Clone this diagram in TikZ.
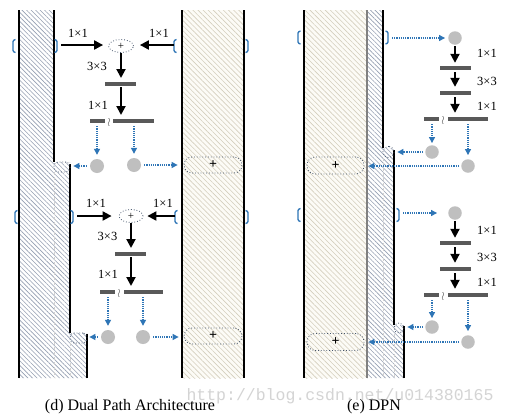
\documentclass[tikz,border=0pt]{standalone}
\usepackage{fontspec}
\setmainfont{Liberation Serif}
\newfontfamily\wmfont{Liberation Mono}
\usetikzlibrary{arrows.meta,shapes.geometric,patterns.meta,calc}
\definecolor{bluec}{HTML}{2E75B6}
\definecolor{barc}{HTML}{595959}
\definecolor{circc}{HTML}{BFBFBF}
\definecolor{dotc}{HTML}{44546A}
\definecolor{hatchb}{HTML}{959FB2}
\definecolor{hatchy}{HTML}{D4CEBD}
\definecolor{creamc}{HTML}{FCFBF6}
\definecolor{wmc}{HTML}{D4D4D4}
\newcommand\mylbr[1]{\draw[brk] (#1) ++(2.5,-6.5) -- ++(-2.5,1) -- ++(0,11) -- ++(2.5,1);}
\newcommand\myrbr[1]{\draw[brk] (#1) ++(-2.5,-6.5) -- ++(2.5,1) -- ++(0,11) -- ++(-2.5,1);}
\begin{document}
\begin{tikzpicture}[x=1pt,y=-1pt,
  lab/.style={font=\fontsize{12.5}{13}\selectfont, inner sep=0pt},
  bar/.style={rectangle, fill=barc, inner sep=0pt, minimum height=4pt},
  gc/.style={circle, fill=circc, minimum size=14pt, inner sep=0pt},
  pe/.style={ellipse, draw=dotc, dotted, line width=0.8pt, minimum width=25pt, minimum height=13pt, inner sep=0pt, font=\fontsize{11}{11}\selectfont},
  sumb/.style={rectangle, rounded corners=8pt, draw=dotc, dotted, line width=0.8pt, minimum width=58pt, minimum height=16pt, inner sep=0pt, font=\bfseries\fontsize{14}{14}\selectfont},
  smallr/.style={rectangle, rounded corners=4pt, draw=dotc, dotted, line width=0.8pt, inner sep=0pt},
  blk/.style={draw=black, line width=2pt, -{Triangle[length=9pt,width=9pt]}},
  bla/.style={draw=bluec, line width=1.2pt, dash pattern=on 1.2pt off 1pt, -{Triangle[length=6pt,width=6pt]}},
  bordr/.style={line width=2pt, black},
  faint/.style={line width=0.6pt, black!18, dash pattern=on 3pt off 2pt},
  brk/.style={draw=bluec, line width=1.3pt, rounded corners=1pt},
  tl/.style={font=\fontsize{12}{12}\selectfont, text=barc, inner sep=0pt},
  hb/.style={pattern={Lines[angle=-45,distance=3.2pt,line width=0.6pt]}, pattern color=hatchb},
  hy/.style={pattern={Lines[angle=-45,distance=3.6pt,line width=0.6pt]}, pattern color=hatchy},
  captxt/.style={font=\fontsize{16}{16}\selectfont, inner sep=0pt}
]
\useasboundingbox (0,0) rectangle (511,418);
\fill[white] (0,0) rectangle (511,418);

% ---------- background columns ----------
% (d) left column
\path[hb] (19,10) -- (54,10) -- (54,162) -- (70,162) -- (70,333) -- (87,333) -- (87,378) -- (19,378) -- cycle;
\draw[faint] (54,172) -- (54,378);
\draw[faint] (70,343) -- (70,378);
\draw[bordr] (19,10) -- (19,378);
\draw[bordr] (54,10) -- (54,162);
\draw[bordr] (70,164) -- (70,333);
\draw[bordr] (87,334) -- (87,378);
% (d) right column
\fill[creamc] (182,10) rectangle (244,378);
\path[hy] (182,10) rectangle (244,378);
\draw[bordr] (182,10) -- (182,378);
\draw[bordr] (244,10) -- (244,378);
% (e) columns
\fill[creamc] (304,10) rectangle (367,378);
\path[hy] (304,10) rectangle (367,378);
\path[hb] (367,10) -- (383,10) -- (383,148) -- (394,148) -- (394,325) -- (404,325) -- (404,378) -- (367,378) -- cycle;
\draw[faint] (383,158) -- (383,378);
\draw[faint] (394,334) -- (394,378);
\draw[bordr] (304,10) -- (304,378);
\draw[line width=1.5pt, black!50] (367,10) -- (367,378);
\draw[bordr] (383,10) -- (383,148);
\draw[bordr] (394,150) -- (394,325);
\draw[bordr] (404,326) -- (404,378);

% ---------- watermark ----------
\node[font=\wmfont\fontsize{16.5}{17}\selectfont, text=wmc, inner sep=0pt] (wm) at (340,396) {http://blog.csdn.net/u014380165};

% ---------- (d) block 1 ----------
\coordinate (d1a) at (13,46); \coordinate (d1b) at (57,46);
\coordinate (d1c) at (174,46); \coordinate (d1d) at (248,46);
\mylbr{d1a} \myrbr{d1b} \mylbr{d1c} \myrbr{d1d}
\coordinate (d1bo) at (61,45); \coordinate (d1co) at (174,45);
\node[pe] (d1e) at (121,46) {+};
\node[lab] (d1l1) at (78,33) {1×1};
\node[lab] (d1l2) at (159,33) {1×1};
\node[lab] (d1l3) at (97,66) {3×3};
\node[lab] (d1l4) at (98,105) {1×1};
\node[bar, minimum width=31pt] (d1b1) at (120.5,84) {};
\node[bar, minimum width=15pt] (d1b2l) at (97.5,121) {};
\node[bar, minimum width=41pt] (d1b2r) at (133.5,121) {};
\node[tl] (d1t) at (109,122) {$\wr$};
\node[gc] (d1c1) at (97,166) {};
\node[gc] (d1c2) at (134,165) {};
\node[smallr, minimum width=16pt, minimum height=10pt] (d1s) at (62,167) {};
\node[sumb] (d1sum) at (213,165) {+};
\draw[blk, shorten >=5pt] (d1bo) -- (d1e.west |- d1bo);
\draw[blk, shorten >=6pt] (d1co) -- (d1e.east |- d1co);
\draw[blk, shorten >=4pt] (121,53) -- (121,82);
\draw[blk, shorten >=4pt] (121,87) -- (121,119);
\draw[bla, shorten <=3pt, shorten >=4pt] (d1b2l.south -| d1c1) -- (d1c1.north);
\draw[bla, shorten <=3pt, shorten >=4pt] (d1b2r.south -| d1c2) -- (d1c2.north);
\draw[bla, shorten <=3pt, shorten >=3pt] (d1c1.west) -- (d1s.east |- d1c1);
\draw[bla, shorten <=3pt, shorten >=6pt] (d1c2.east) -- (d1sum.west |- d1c2);

% ---------- (d) block 2 ----------
\coordinate (d2a) at (15,217); \coordinate (d2b) at (73,217);
\coordinate (d2c) at (175,217); \coordinate (d2d) at (248,217);
\mylbr{d2a} \myrbr{d2b} \mylbr{d2c} \myrbr{d2d}
\coordinate (d2bo) at (77,216); \coordinate (d2co) at (175,216);
\node[pe, minimum width=24pt] (d2e) at (131,216) {+};
\node[lab] (d2l1) at (96,203) {1×1};
\node[lab] (d2l2) at (163,203) {1×1};
\node[lab] (d2l3) at (107.5,236) {3×3};
\node[lab] (d2l4) at (108,274) {1×1};
\node[bar, minimum width=31pt] (d2b1) at (130.5,254) {};
\node[bar, minimum width=15pt] (d2b2l) at (107.5,292) {};
\node[bar, minimum width=39pt] (d2b2r) at (143.5,292) {};
\node[tl] (d2t) at (119,293) {$\wr$};
\node[gc] (d2c1) at (108,337) {};
\node[gc] (d2c2) at (143,337) {};
\node[smallr, minimum width=17pt, minimum height=10pt] (d2s) at (78.5,338) {};
\node[sumb] (d2sum) at (213,336) {+};
\draw[blk, shorten >=7pt] (d2bo) -- (d2e.west |- d2bo);
\draw[blk, shorten >=4pt] (d2co) -- (d2e.east |- d2co);
\draw[blk, shorten >=4pt] (131,223) -- (131,252);
\draw[blk, shorten >=4pt] (131,257) -- (131,290);
\draw[bla, shorten <=3pt, shorten >=4pt] (d2b2l.south -| d2c1) -- (d2c1.north);
\draw[bla, shorten <=3pt, shorten >=4pt] (d2b2r.south -| d2c2) -- (d2c2.north);
\draw[bla, shorten <=3pt, shorten >=2pt] (d2c1.west) -- (d2s.east |- d2c1);
\draw[bla, shorten <=3pt, shorten >=5pt] (d2c2.east) -- (d2sum.west |- d2c2);

% ---------- (e) block 1 ----------
\coordinate (e1a) at (298,37.5); \coordinate (e1b) at (388,37.5);
\mylbr{e1a} \myrbr{e1b}
\coordinate (e1bo) at (392,38);
\node[gc, minimum size=13.5pt] (e1c0) at (455,38) {};
\node[lab] (e1l1) at (487,53) {1×1};
\node[lab] (e1l2) at (487,81) {3×3};
\node[lab] (e1l3) at (487,106) {1×1};
\node[bar, minimum width=31pt] (e1b1) at (455.5,68) {};
\node[bar, minimum width=31pt] (e1b2) at (455.5,93) {};
\node[bar, minimum width=15pt] (e1b3l) at (431.5,119) {};
\node[bar, minimum width=40pt] (e1b3r) at (468,119) {};
\node[tl] (e1t) at (443,120) {$\wr$};
\node[gc, minimum size=13.5pt] (e1c1) at (432,152) {};
\node[gc, minimum size=13.5pt] (e1c2) at (468,166) {};
\node[smallr, rounded corners=5pt, minimum width=11pt, minimum height=11pt] (e1s) at (388.5,152) {};
\node[sumb, minimum width=57pt, minimum height=17pt] (e1sum) at (335.5,165.5) {+};
\draw[bla, shorten >=3pt] (e1bo) -- (e1c0.west);
\draw[blk, shorten <=1pt, shorten >=3pt] (e1c0.south) -- (e1b1.north -| e1c0);
\draw[blk, shorten <=2pt, shorten >=4pt] (e1b1.south -| e1c0) -- (e1b2.north -| e1c0);
\draw[blk, shorten <=2pt, shorten >=4pt] (e1b2.south -| e1c0) -- (e1b3r.north -| e1c0);
\draw[bla, shorten <=3pt, shorten >=2pt] (e1b3l.south -| e1c1) -- (e1c1.north);
\draw[bla, shorten <=3pt, shorten >=4pt] (e1b3r.south -| e1c2) -- (e1c2.north);
\draw[bla, shorten <=2pt, shorten >=3pt] (e1c1.west) -- (e1s.east |- e1c1);
\draw[bla, shorten <=2pt, shorten >=4pt] (e1c2.west) -- (e1sum.east |- e1c2);

% ---------- (e) block 2 ----------
\coordinate (e2a) at (298,215); \coordinate (e2b) at (399,215);
\mylbr{e2a} \myrbr{e2b}
\coordinate (e2bo) at (403,213);
\node[gc, minimum size=13.5pt] (e2c0) at (455,213) {};
\node[lab] (e2l1) at (487,230) {1×1};
\node[lab] (e2l2) at (487,257) {3×3};
\node[lab] (e2l3) at (487,282) {1×1};
\node[bar, minimum width=31pt] (e2b1) at (455.5,243) {};
\node[bar, minimum width=31pt] (e2b2) at (455.5,269) {};
\node[bar, minimum width=15pt] (e2b3l) at (431.5,295) {};
\node[bar, minimum width=40pt] (e2b3r) at (468,295) {};
\node[tl] (e2t) at (443,296) {$\wr$};
\node[gc, minimum size=13.5pt] (e2c1) at (432,327) {};
\node[gc, minimum size=13.5pt] (e2c2) at (468,342) {};
\node[smallr, rounded corners=5pt, minimum width=10pt, minimum height=10pt] (e2s) at (399,328) {};
\node[sumb, minimum width=57pt, minimum height=17pt] (e2sum) at (335.5,342) {+};
\draw[bla, shorten >=11pt] (e2bo) -- (e2c0.west);
\draw[blk, shorten <=1pt, shorten >=3pt] (e2c0.south) -- (e2b1.north -| e2c0);
\draw[blk, shorten <=2pt, shorten >=4pt] (e2b1.south -| e2c0) -- (e2b2.north -| e2c0);
\draw[blk, shorten <=2pt, shorten >=4pt] (e2b2.south -| e2c0) -- (e2b3r.north -| e2c0);
\draw[bla, shorten <=3pt, shorten >=2pt] (e2b3l.south -| e2c1) -- (e2c1.north);
\draw[bla, shorten <=3pt, shorten >=4pt] (e2b3r.south -| e2c2) -- (e2c2.north);
\draw[bla, shorten <=2pt, shorten >=3pt] (e2c1.west) -- (e2s.east |- e2c1);
\draw[bla, shorten <=2pt, shorten >=4pt] (e2c2.west) -- (e2sum.east |- e2c2);

% ---------- captions ----------
\node[captxt] (capd) at (130,407) {(d) Dual Path Architecture};
\node[captxt] (cape) at (374,407) {(e) DPN};
\end{tikzpicture}
\end{document}
